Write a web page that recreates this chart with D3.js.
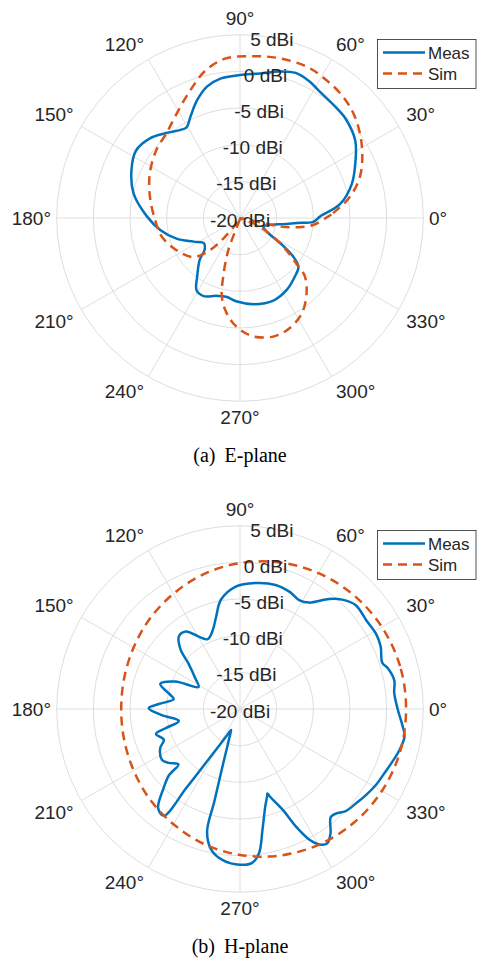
<!DOCTYPE html>
<html>
<head>
<meta charset="utf-8">
<script src="https://cdn.jsdelivr.net/npm/d3@7"></script>
<style>
  html, body { margin: 0; padding: 0; background: #fff; }
  svg { display: block; }
</style>
</head>
<body>
<svg id="chart" width="477" height="961"></svg>
<script>
// polar axes ticks
const thetaTicks = [0, 30, 60, 90, 120, 150, 180, 210, 240, 270, 300, 330];
const rTicks = [-20, -15, -10, -5, 0, 5];
const legendLabels = ["Meas", "Sim"];

// (a) E-plane, measured
const eMeasDeg = [1, 8, 17, 27, 34, 43, 50, 58, 63, 69, 75, 82, 90, 98, 104, 110, 116, 120.5, 124, 131,
    138.5, 147, 156, 167, 179, 188.5, 198, 207, 215, 222, 226, 234, 239, 245, 253, 260, 268, 279, 292, 303,
    313, 320, 324, 328, 333, 340, 348, 352, 355, 357];
const eMeasDbi = [-9.1, -6.2, -4.05, -2.3, -1.05, -0.25, 0, 0.4, 0.9, 1.2, 0.7, -0.1, -0.5, -0.8, -1.5, -2.9, -4.6, -5.65, -5.5, -4.65,
    -3.6, -3.1, -3.8, -5.1, -7.3, -9.0, -10.9, -12.9, -14.0, -13.5, -12.1, -10.05, -8.5, -8.25, -8.9, -9.1, -8.6, -8.1, -7.85, -8.3,
    -9.05, -9.6, -11.0, -13.5, -15.9, -16.6, -15.6, -14.0, -12.2, -10.0];

// (a) E-plane, simulated
const eSimDeg = [0, 3, 11, 20, 31.5, 41.5, 49.5, 58, 66, 76, 85, 95, 103, 111, 121, 131, 141, 154, 167, 181,
    193, 207, 220, 227, 231, 234.5, 240, 250, 254, 257, 262, 268, 276, 286, 294, 303, 311.5, 318, 321, 326.5,
    333, 338, 342, 348, 351, 354.5];
const eSimDbi = [-8.3, -7.3, -4.7, -2.5, -0.55, 0.9, 1.7, 2.2, 2.55, 2.45, 2.15, 1.85, 0.7, -1.25, -3.3, -4.7, -5.3, -6.3, -7.4, -8.4,
    -9.0, -10.3, -11.7, -14.0, -16.4, -18.8, -22, -15.4, -11.7, -9.0, -6.9, -5.2, -3.8, -3.2, -3.5, -4.5, -6.3, -8.1, -10.1, -12.9,
    -15.9, -18.0, -22, -14.4, -12.0, -10.0];

// (b) H-plane, measured
const hMeasDeg = [0, 6, 10.5, 15.5, 18, 24, 29, 35, 42, 47, 51, 57, 61.5, 67, 74, 83, 92, 100, 104.5, 109,
    115, 125, 130, 135, 138.5, 145.5, 152, 157, 162.5, 168.5, 171.5, 176.5, 179.5, 184.5, 191, 194.5, 196.5, 202, 206, 213,
    217, 222, 223, 226, 230.5, 234.5, 235.8, 238.1, 241.1, 243.5, 247, 249.5, 251.1, 253.3, 254.5, 255, 258.5, 263.5,
    270, 274.5, 277.5, 280.5, 284.5, 287.3, 288, 289, 293, 295.5, 298, 300.5, 303, 306, 310, 312.5, 316, 321, 325.5, 331, 336, 340,
    345.5, 350.5, 354];
const hMeasDbi = [1.5, 1.15, 1.4, 0.9, 0.4, 1.0, 1.2, 1.05, 1.2, 0.4, -0.7, -2.7, -3.1, -2.65, -2.4, -2.7, -3.3, -4.9, -7.0, -8.6,
    -9.5, -7.1, -7.05, -8.55, -10.6, -12.6, -13.6, -10.4, -8.6, -10.3, -10.85, -8.9, -7.55, -9.3, -11.5, -9.5, -8.05, -8.8, -7.9, -7.3,
    -7.8, -8.7, -6.75, -5.0, -2.45, -2.1, -7.0, -12.05, -14.7, -15.9, -16.9, -15.9, -14.8, -11.2, -6.9, -2.65, -0.4, 0.75,
    1.25, 1.05, -0.15, -3.2, -6.25, -7.55, -7.9, -7.3, -5.05, -2.2, 0.2, 1.45, 1.85, 1.0, -0.75, -0.65, 0.05, 0.4, 0.8, 1.25, 1.55, 1.9,
    2.45, 2.75, 2.3];

// (b) H-plane, simulated
const hSimDeg = [0, 15, 30, 45, 60, 75, 90, 105, 120, 135, 150, 165, 180, 195, 210, 225, 240, 255, 270, 285, 300, 315, 330, 345];
const hSimDbi = [2.65, 2.6, 2.35, 1.95, 1.4, 0.7, -0.1, -0.95, -1.85, -2.6, -3.25, -3.65, -3.8, -3.65, -3.25, -2.6, -1.85, -0.95, -0.1, 0.7, 1.4, 1.95, 2.35, 2.6];

const zip = (deg, dbi) => deg.map((d, i) => ({ deg: d, dbi: dbi[i] }));

const panels = [
    { cy: 218, legendY: 39, captionY: 462, tag: "(a)", name: "E-plane", meas: zip(eMeasDeg, eMeasDbi), sim: zip(eSimDeg, eSimDbi) },
    { cy: 709, legendY: 530, captionY: 953, tag: "(b)", name: "H-plane", meas: zip(hMeasDeg, hMeasDbi), sim: zip(hSimDeg, hSimDbi) }
];

const cx = 240;
const outerR = 183.3;
const measColor = "#0072bd";
const simColor = "#d95319";
const gridColor = "#dedede";
const textColor = "#262626";
const sansFont = "'Liberation Sans', Arial, Helvetica, sans-serif";

const rScale = d3.scaleLinear().domain([-20, 5]).range([0, outerR]).clamp(true);
const toRad = deg => deg * Math.PI / 180;

const svg = d3.select("#chart");

const radial = d3.lineRadial()
    .angle(d => Math.PI / 2 - toRad(d.deg))
    .radius(d => rScale(d.dbi))
    .curve(d3.curveCatmullRomClosed.alpha(0.5));

panels.forEach(panel => {
    const g = svg.append("g").attr("transform", `translate(${cx}, ${panel.cy})`);

    // Grid circles
    g.selectAll(".ring")
        .data(rTicks.filter(t => rScale(t) > 0))
        .join("circle")
        .attr("class", "ring")
        .attr("r", d => rScale(d))
        .attr("fill", "none")
        .attr("stroke", gridColor)
        .attr("stroke-width", 1);

    // Spokes
    g.selectAll(".spoke")
        .data(thetaTicks)
        .join("line")
        .attr("class", "spoke")
        .attr("x1", 0).attr("y1", 0)
        .attr("x2", d => outerR * Math.cos(toRad(d)))
        .attr("y2", d => -outerR * Math.sin(toRad(d)))
        .attr("stroke", gridColor)
        .attr("stroke-width", 1);

    g.append("path")
        .datum(panel.meas)
        .attr("d", radial)
        .attr("fill", "none")
        .attr("stroke", measColor)
        .attr("stroke-width", 2.5)
        .attr("stroke-linejoin", "round");

    g.append("path")
        .datum(panel.sim)
        .attr("d", radial)
        .attr("fill", "none")
        .attr("stroke", simColor)
        .attr("stroke-width", 2.5)
        .attr("stroke-dasharray", "9,6");

    // Theta labels
    g.selectAll(".theta-label")
        .data(thetaTicks)
        .join("text")
        .attr("class", "theta-label")
        .each(function(d) {
            const c = Math.cos(toRad(d)), s = Math.sin(toRad(d));
            const rg = Math.abs(s) < 0.01 ? 189 : 192;
            const ax = rg * c, ay = -rg * s;
            const anchor = c > 0.01 ? "start" : (c < -0.01 ? "end" : "middle");
            const midY = Math.abs(s) < 0.01 ? ay : ay - Math.sign(s) * 7.5;
            d3.select(this)
                .attr("x", ax)
                .attr("y", midY + 6.5)
                .attr("text-anchor", anchor);
        })
        .text(d => `${d}°`)
        .attr("font-family", sansFont)
        .attr("font-size", 19)
        .attr("fill", textColor);

    // R labels along 80 degrees
    g.selectAll(".r-label")
        .data(rTicks)
        .join("text")
        .attr("class", "r-label")
        .attr("x", d => rScale(d) * Math.cos(toRad(80)))
        .attr("y", d => -rScale(d) * Math.sin(toRad(80)) + 8.5)
        .attr("text-anchor", "middle")
        .text(d => `${d} dBi`)
        .attr("font-family", sansFont)
        .attr("font-size", 19)
        .attr("fill", textColor);

    // Legend
    const leg = svg.append("g").attr("transform", `translate(377.5, ${panel.legendY + 0.5})`);
    leg.append("rect")
        .attr("width", 98.5)
        .attr("height", 49)
        .attr("fill", "#fff")
        .attr("stroke", textColor)
        .attr("stroke-width", 0.8);
    legendLabels.forEach((label, i) => {
        leg.append("line")
            .attr("x1", 5.5).attr("x2", 47.5)
            .attr("y1", 13 + i * 21).attr("y2", 13 + i * 21)
            .attr("stroke", i === 0 ? measColor : simColor)
            .attr("stroke-width", 2.5)
            .attr("stroke-dasharray", i === 0 ? null : "9,6");
        leg.append("text")
            .attr("x", 50.5)
            .attr("y", 19 + i * 21)
            .text(label)
            .attr("font-family", sansFont)
            .attr("font-size", 17)
            .attr("fill", textColor);
    });

    // Caption
    const cap = svg.append("text")
        .attr("x", cx)
        .attr("y", panel.captionY)
        .attr("text-anchor", "middle")
        .attr("font-family", "'Liberation Serif', 'Times New Roman', Times, serif")
        .attr("font-size", 20)
        .attr("fill", "#000");
    cap.append("tspan").text(panel.tag);
    cap.append("tspan").attr("dx", 9).text(panel.name);
});
</script>
</body>
</html>
